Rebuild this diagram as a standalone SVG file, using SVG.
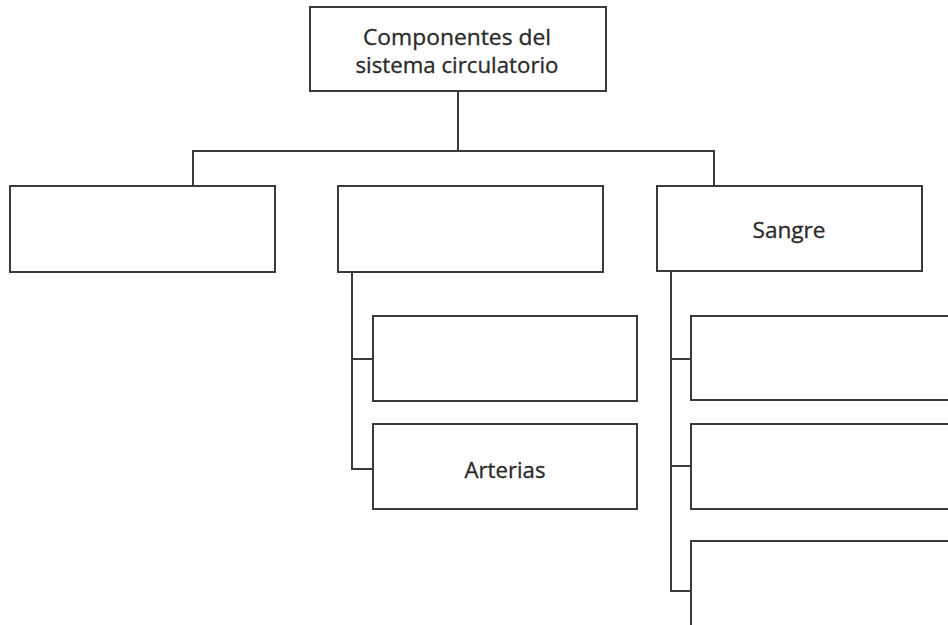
<svg xmlns="http://www.w3.org/2000/svg" width="948" height="625" viewBox="0 0 948 625">
<style>
.box{fill:#fff;stroke:#3a3a3a;stroke-width:2}
.ln{fill:none;stroke:#3a3a3a;stroke-width:2}
text{font-family:"Open Sans","Liberation Sans",sans-serif;font-size:22px;fill:#2a2a2a;text-anchor:middle;stroke:#2a2a2a;stroke-width:0.3}
</style>
<rect width="948" height="625" fill="#fff"/>
<g id="connectors">
<path class="ln" d="M458 91V151M193 186V151H714V186M352 272V469H373M352 359H373M671 271V591H691M671 359H691M671 466H691"/>
</g>
<g id="root"><rect class="box" x="310" y="7" width="296" height="84"/><text x="457" y="45" textLength="188" lengthAdjust="spacingAndGlyphs">Componentes del</text><text x="457" y="73" textLength="203" lengthAdjust="spacingAndGlyphs">sistema circulatorio</text></g>
<g id="n1"><rect class="box" x="10" y="186" width="265" height="86"/></g>
<g id="n2"><rect class="box" x="338" y="186" width="265" height="86"/></g>
<g id="n3"><rect class="box" x="657" y="186" width="265" height="85"/><text x="789" y="238" textLength="73" lengthAdjust="spacingAndGlyphs">Sangre</text></g>
<g id="n2a"><rect class="box" x="373" y="316" width="264" height="85"/></g>
<g id="n2b"><rect class="box" x="373" y="424" width="264" height="85"/><text x="505" y="478" textLength="81" lengthAdjust="spacingAndGlyphs">Arterias</text></g>
<g id="n3a"><rect class="box" x="691" y="316" width="270" height="84"/></g>
<g id="n3b"><rect class="box" x="691" y="424" width="270" height="85"/></g>
<g id="n3c"><rect class="box" x="691" y="541" width="270" height="95"/></g>
</svg>
